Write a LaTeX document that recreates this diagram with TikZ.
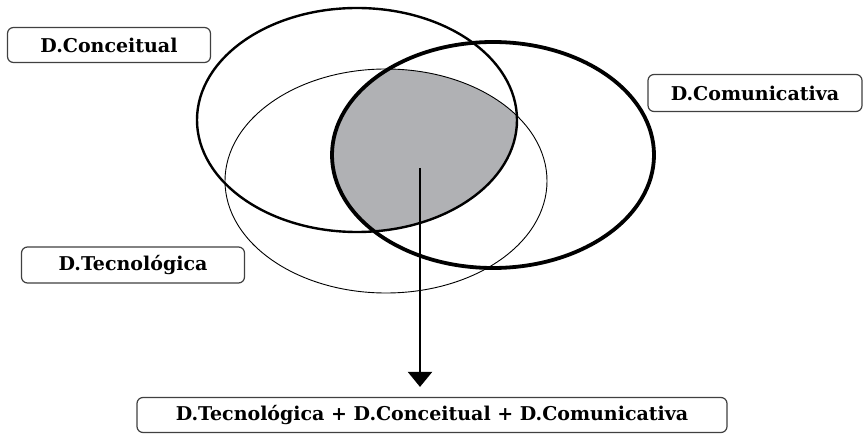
\documentclass[tikz,border=0pt]{standalone}
\usepackage{fontspec}
\setmainfont{DejaVu Serif}
\usetikzlibrary{arrows.meta}
\tikzset{
    dimbox/.style={draw=black!75, line width=1.2pt, rounded corners=6pt, fill=white,
        font=\bfseries\fontsize{19}{22}\selectfont, inner sep=0pt},
}
\begin{document}
\begin{tikzpicture}[x=1pt, y=-1pt]
            \useasboundingbox (0,0) rectangle (866,435);
            \def\conc{(357,120) ellipse [x radius=160, y radius=112]}
            \def\comu{(493,155) ellipse [x radius=161, y radius=113]}
            \def\tecn{(386,181) ellipse [x radius=161, y radius=112]}
            \begin{scope}
                \clip \conc;
                \clip \comu;
                \fill[fill={rgb,255:red,176;green,177;blue,180}] \tecn;
            \end{scope}
            \draw[line width=0.9pt] \tecn;
            \draw[line width=2.4pt] \conc;
            \draw[line width=3.8pt] \comu;
            \node[dimbox, minimum width=203, minimum height=35] (conc) at (109,45) {D.Conceitual};
            \node[dimbox, minimum width=214, minimum height=37] (comu) at (755,93) {D.Comunicativa};
            \node[dimbox, minimum width=223, minimum height=36] (tecn) at (133,265) {D.Tecnológica};
            \node[dimbox, minimum width=590, minimum height=35] (soma) at (432,415)
                {D.Tecnológica + D.Conceitual + D.Comunicativa};
            \coordinate (nucleo) at (420,168);
            \draw[line width=2.2pt, -{Triangle[length=15pt, width=24pt]}, shorten >=10pt] (nucleo) -- (nucleo |- soma.north);
        \end{tikzpicture}
\end{document}
